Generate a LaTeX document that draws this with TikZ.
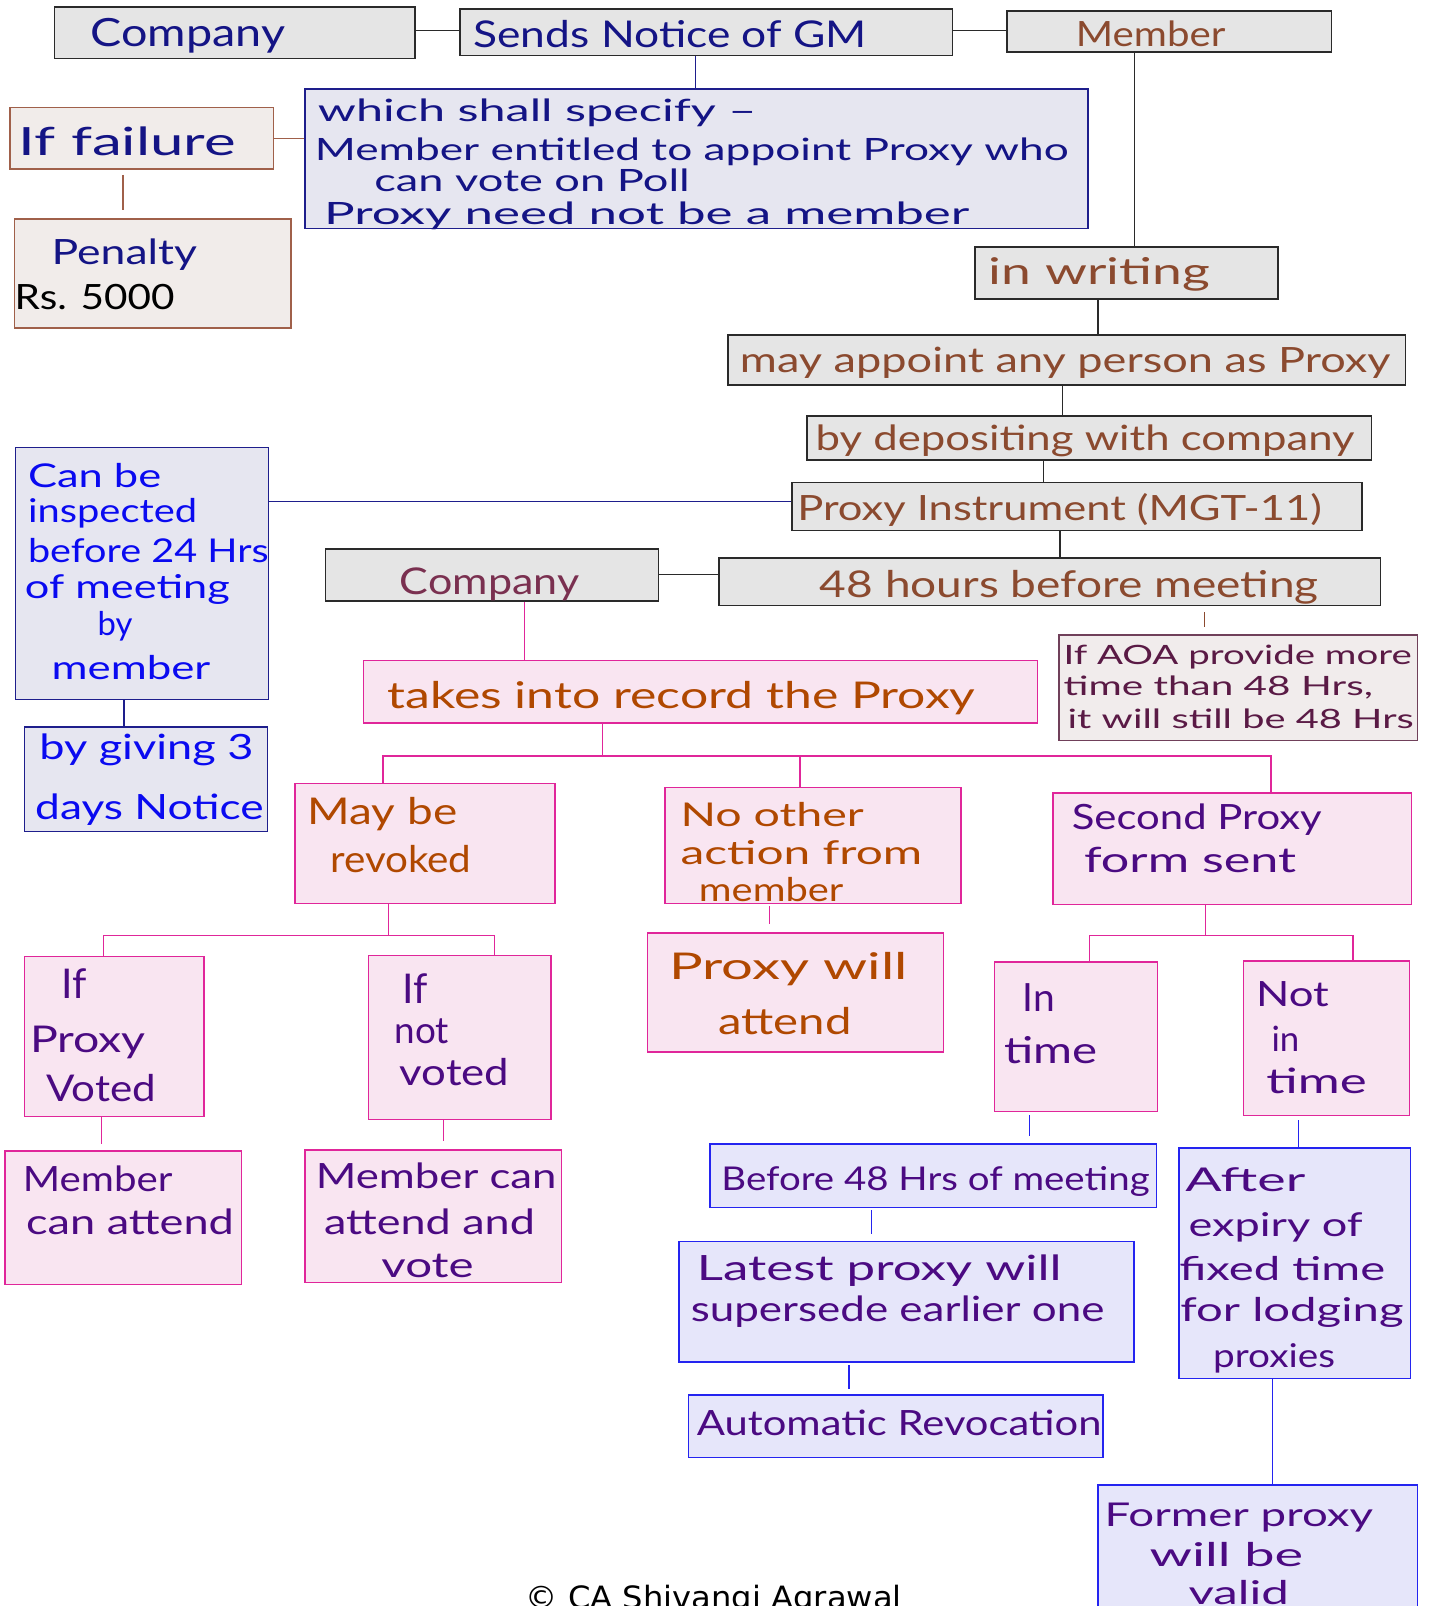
\documentclass[tikz,border=0pt]{standalone}
\usepackage{graphicx}
\usepackage{fontspec}
\setmainfont{Lato}
\newfontfamily\cpfont{DejaVu Sans}
\usetikzlibrary{fit}
\newlength\pxu \setlength\pxu{0.5pt}
\newcommand\tw[2]{\resizebox{#1\pxu}{\height}{#2}}
\newcommand\fs[1]{\fontsize{#1pt}{#1pt}\selectfont}
\definecolor{navyT}{HTML}{141485}
\definecolor{brownT}{HTML}{8B4A2F}
\definecolor{blueT}{HTML}{0A0AF0}
\definecolor{plumT}{HTML}{7A3050}
\definecolor{aoaT}{HTML}{5A1A45}
\definecolor{orangeT}{HTML}{B04800}
\definecolor{indigoT}{HTML}{4B0A82}
\definecolor{grayF}{HTML}{E5E5E5}
\definecolor{grayB}{HTML}{2A2A2A}
\definecolor{lavF}{HTML}{E6E6F0}
\definecolor{navyB}{HTML}{1E1E8C}
\definecolor{beigeF}{HTML}{F1ECEA}
\definecolor{brownB}{HTML}{A0604A}
\definecolor{aoaF}{HTML}{F1ECEC}
\definecolor{aoaB}{HTML}{70405A}
\definecolor{pinkF}{HTML}{F9E5F1}
\definecolor{pinkB}{HTML}{E0269A}
\definecolor{blueF}{HTML}{E6E6FA}
\definecolor{blueB}{HTML}{2424F0}
\begin{document}
\begin{tikzpicture}[x=0.5pt,y=-0.5pt,
  bx/.style={inner sep=0pt, line width=0.75pt},
  gbox/.style={bx, draw=grayB, fill=grayF},
  lbox/.style={bx, draw=navyB, fill=lavF},
  bbox/.style={bx, draw=brownB, fill=beigeF},
  abox/.style={bx, draw=aoaB, fill=aoaF},
  pbox/.style={bx, draw=pinkB, fill=pinkF},
  vbox/.style={bx, draw=blueB, fill=blueF},
  txt/.style={anchor=base west, inner sep=0pt},
  cl/.style={draw=grayB, line width=0.6pt},
  nl/.style={draw=navyB, line width=0.6pt},
  bl/.style={draw=brownB, line width=0.6pt},
  brl/.style={draw=brownT, line width=0.8pt},
  pl/.style={draw=pinkB, line width=0.6pt},
  vl/.style={draw=blueB, line width=0.6pt}]
\useasboundingbox (0,0) rectangle (1397,1568);
\clip (0,0) rectangle (1397,1568);
\fill[white] (0,0) rectangle (1397,1568);

% ---------- boxes ----------
\node[gbox, fit={(53,7)(405,57)}] (company1) {};
\node[gbox, fit={(449,9)(930,54)}] (sends) {};
\node[gbox, fit={(983,11)(1300,51)}] (member) {};
\node[lbox, fit={(298,87)(1062,223)}] (which) {};
\node[bbox, fit={(10,105)(267,165)}] (iffail) {};
\node[bbox, fit={(14,214)(284,320)}] (penalty) {};
\node[gbox, fit={(952,241)(1248,292)}] (writing) {};
\node[gbox, fit={(711,327)(1372,376)}] (mayapp) {};
\node[gbox, fit={(788,406)(1339,449)}] (bydep) {};
\node[gbox, fit={(773,471)(1330,518)}] (pinst) {};
\node[gbox, fit={(702,545)(1348,591)}] (h48) {};
\node[lbox, fit={(15,437)(262,683)}] (inspect) {};
\node[lbox, fit={(24,710)(261,812)}] (bygiving) {};
\node[gbox, fit={(318,536)(643,587)}] (company2) {};
\node[abox, fit={(1034,620)(1384,723)}] (aoa) {};
\node[pbox, fit={(355,645)(1013,706)}] (takes) {};
\node[pbox, fit={(288,765)(542,882)}] (mayrev) {};
\node[pbox, fit={(649,769)(938,882)}] (noother) {};
\node[pbox, fit={(1028,774)(1378,883)}] (second) {};
\node[pbox, fit={(24,934)(199,1090)}] (pvoted) {};
\node[pbox, fit={(360,933)(538,1093)}] (notvoted) {};
\node[pbox, fit={(5,1124)(236,1254)}] (mcanatt) {};
\node[pbox, fit={(298,1123)(548,1252)}] (mcanvote) {};
\node[pbox, fit={(632,911)(921,1027)}] (pwill) {};
\node[pbox, fit={(971,939)(1130,1085)}] (intime) {};
\node[pbox, fit={(1214,938)(1376,1089)}] (notintime) {};
\node[vbox, fit={(693,1117)(1129,1179)}] (before) {};
\node[vbox, fit={(663,1212)(1107,1330)}] (latest) {};
\node[vbox, fit={(672,1362)(1077,1423)}] (auto) {};
\node[vbox, fit={(1151,1121)(1377,1346)}] (after) {};
\node[vbox, fit={(1072,1450)(1384,1600)}] (former) {};

% ---------- junctions ----------
\coordinate (jt) at (588,738);
\coordinate (jtl) at (374,738);
\coordinate (jtm) at (781,738);
\coordinate (jtr) at (1241,738);
\coordinate (jm) at (379,913);
\coordinate (jml) at (101,913);
\coordinate (jmr) at (483,913);
\coordinate (js) at (1177,913);
\coordinate (jsl) at (1064,913);
\coordinate (jsr) at (1321,913);

% ---------- connectors ----------
\draw[cl] (company1.east |- 0,30) -- (sends.west |- 0,30);
\draw[cl] (sends.east |- 0,30) -- (member.west |- 0,30);
\draw[nl] (sends.south -| 679,0) -- (which.north -| 679,0);
\draw[bl] (iffail.east |- 0,135) -- (which.west |- 0,135);
\draw[bl, shorten <=2.5pt, shorten >=4pt] (iffail.south -| 120,0) -- (penalty.north -| 120,0);
\draw[cl] (member.south -| 1108,0) -- (writing.north -| 1108,0);
\draw[cl] (writing.south -| 1072,0) -- (mayapp.north -| 1072,0);
\draw[cl] (mayapp.south -| 1037,0) -- (bydep.north -| 1037,0);
\draw[cl] (bydep.south -| 1019,0) -- (pinst.north -| 1019,0);
\draw[cl] (pinst.south -| 1035,0) -- (h48.north -| 1035,0);
\draw[nl] (inspect.east |- 0,490) -- (pinst.west |- 0,490);
\draw[nl] (inspect.south -| 121,0) -- (bygiving.north -| 121,0);
\draw[cl] (company2.east |- 0,561) -- (h48.west |- 0,561);
\draw[brl, shorten <=3pt, shorten >=3.5pt] (h48.south -| 1176,0) -- (aoa.north -| 1176,0);
\draw[pl] (company2.south -| 512,0) -- (takes.north -| 512,0);
\draw[pl] (takes.south -| jt) -- (jt);
\draw[pl] (mayrev.north -| jtl) -- (jtl) -- (jtr) -- (second.north -| jtr);
\draw[pl] (noother.north -| jtm) -- (jtm);
\draw[pl] (mayrev.south -| jm) -- (jm);
\draw[pl] (pvoted.north -| jml) -- (jml) -- (jmr) -- (notvoted.north -| jmr);
\draw[pl, shorten >=3pt] (pvoted.south -| 99,0) -- (mcanatt.north -| 99,0);
\draw[pl, shorten >=4pt] (notvoted.south -| 433,0) -- (mcanvote.north -| 433,0);
\draw[pl, shorten <=1pt, shorten >=4pt] (noother.south -| 751,0) -- (pwill.north -| 751,0);
\draw[pl] (second.south -| js) -- (js);
\draw[pl] (intime.north -| jsl) -- (jsl) -- (jsr) -- (notintime.north -| jsr);
\draw[vl, shorten <=1.5pt, shorten >=3.5pt] (intime.south -| 1005,0) -- (before.north -| 1005,0);
\draw[vl, shorten <=1pt, shorten >=3pt] (before.south -| 851,0) -- (latest.north -| 851,0);
\draw[vl, shorten <=1pt, shorten >=2.5pt] (latest.south -| 829,0) -- (auto.north -| 829,0);
\draw[vl, shorten <=2pt] (notintime.south -| 1268,0) -- (after.north -| 1268,0);
\draw[vl] (after.south -| 1242,0) -- (former.north -| 1242,0);

% ---------- texts ----------
\node[txt, text=navyT, font=\fs{19}] (t1) at (88,45) {\tw{190}{Company}};
\node[txt, text=navyT, font=\fs{18}] (t2) at (462,46) {\tw{384}{Sends Notice of GM}};
\node[txt, text=brownT, font=\fs{17}] (t3) at (1050,45) {\tw{146}{Member}};
\node[txt, text=navyT, font=\fs{15}] (t4a) at (310,119) {\tw{428}{which shall specify –}};
\node[txt, text=navyT, font=\fs{15}] (t4b) at (307,157) {\tw{736}{Member entitled to appoint Proxy who}};
\node[txt, text=navyT, font=\fs{15}] (t4c) at (365,187) {\tw{308}{can vote on Poll}};
\node[txt, text=navyT, font=\fs{15}] (t4d) at (316,219) {\tw{630}{Proxy need not be a member}};
\node[txt, text=navyT, font=\fs{19}] (t5) at (18,152) {\tw{212}{If failure}};
\node[txt, text=navyT, font=\fs{17}] (t6a) at (50,258) {\tw{142}{Penalty}};
\node[txt, text=black, font=\fs{17}] (t6b) at (14,302) {\tw{156}{Rs. 5000}};
\node[txt, text=brownT, font=\fs{18}] (t7) at (965,278) {\tw{216}{in writing}};
\node[txt, text=brownT, font=\fs{17}] (t8) at (722,364) {\tw{635}{may appoint any person as Proxy}};
\node[txt, text=brownT, font=\fs{17}] (t9) at (796,440) {\tw{526}{by depositing with company}};
\node[txt, text=brownT, font=\fs{17}] (t10) at (778,508) {\tw{512}{Proxy Instrument (MGT-11)}};
\node[txt, text=brownT, font=\fs{18}] (t11) at (800,583) {\tw{487}{48 hours before meeting}};
\node[txt, text=blueT, font=\fs{16}] (t12a) at (27,476) {\tw{130}{Can be}};
\node[txt, text=blueT, font=\fs{16}] (t12b) at (27,510) {\tw{165}{inspected}};
\node[txt, text=blueT, font=\fs{16}] (t12c) at (27,549) {\tw{235}{before 24 Hrs}};
\node[txt, text=blueT, font=\fs{16}] (t12d) at (24,584) {\tw{200}{of meeting}};
\node[txt, text=blueT, font=\fs{16}] (t12e) at (95,620) {by};
\node[txt, text=blueT, font=\fs{16}] (t12f) at (50,663) {\tw{155}{member}};
\node[txt, text=blueT, font=\fs{17}] (t13a) at (38,742) {\tw{209}{by giving 3}};
\node[txt, text=blueT, font=\fs{17}] (t13b) at (34,800) {\tw{223}{days Notice}};
\node[txt, text=plumT, font=\fs{18}] (t14) at (390,580) {\tw{175}{Company}};
\node[txt, text=aoaT, font=\fs{13}] (t15a) at (1038,649) {\tw{340}{If AOA provide more}};
\node[txt, text=aoaT, font=\fs{13}] (t15b) at (1038,679) {\tw{302}{time than 48 Hrs,}};
\node[txt, text=aoaT, font=\fs{13}] (t15c) at (1042,711) {\tw{338}{it will still be 48 Hrs}};
\node[txt, text=orangeT, font=\fs{18}] (t16) at (378,692) {\tw{574}{takes into record the Proxy}};
\node[txt, text=orangeT, font=\fs{18}] (t17a) at (300,805) {\tw{146}{May be}};
\node[txt, text=orangeT, font=\fs{18}] (t17b) at (322,852) {\tw{138}{revoked}};
\node[txt, text=orangeT, font=\fs{16}] (t18a) at (664,807) {\tw{179}{No other}};
\node[txt, text=orangeT, font=\fs{16}] (t18b) at (664,844) {\tw{236}{action from}};
\node[txt, text=orangeT, font=\fs{16}] (t18c) at (682,880) {\tw{141}{member}};
\node[txt, text=indigoT, font=\fs{17}] (t19a) at (1046,810) {\tw{244}{Second Proxy}};
\node[txt, text=indigoT, font=\fs{17}] (t19b) at (1058,852) {\tw{207}{form sent}};
\node[txt, text=indigoT, font=\fs{20}] (t20a) at (60,975) {If};
\node[txt, text=indigoT, font=\fs{18}] (t20b) at (29,1028) {\tw{113}{Proxy}};
\node[txt, text=indigoT, font=\fs{18}] (t20c) at (45,1075) {\tw{107}{Voted}};
\node[txt, text=indigoT, font=\fs{20}] (t21a) at (393,980) {If};
\node[txt, text=indigoT, font=\fs{18}] (t21b) at (385,1019) {not};
\node[txt, text=indigoT, font=\fs{18}] (t21c) at (390,1060) {\tw{107}{voted}};
\node[txt, text=indigoT, font=\fs{17}] (t22a) at (22,1163) {\tw{146}{Member}};
\node[txt, text=indigoT, font=\fs{17}] (t22b) at (25,1205) {\tw{203}{can attend}};
\node[txt, text=indigoT, font=\fs{17}] (t23a) at (308,1160) {\tw{235}{Member can}};
\node[txt, text=indigoT, font=\fs{17}] (t23b) at (316,1205) {\tw{206}{attend and}};
\node[txt, text=indigoT, font=\fs{17}] (t23c) at (372,1247) {\tw{90}{vote}};
\node[txt, text=orangeT, font=\fs{18}] (t24a) at (653,956) {\tw{233}{Proxy will}};
\node[txt, text=orangeT, font=\fs{18}] (t24b) at (701,1010) {\tw{130}{attend}};
\node[txt, text=indigoT, font=\fs{19}] (t25a) at (998,988) {In};
\node[txt, text=indigoT, font=\fs{18}] (t25b) at (980,1038) {\tw{91}{time}};
\node[txt, text=indigoT, font=\fs{17}] (t26a) at (1226,983) {\tw{71}{Not}};
\node[txt, text=indigoT, font=\fs{17}] (t26b) at (1241,1027) {in};
\node[txt, text=indigoT, font=\fs{17}] (t26c) at (1236,1068) {\tw{98}{time}};
\node[txt, text=indigoT, font=\fs{16}] (t27) at (704,1162) {\tw{418}{Before 48 Hrs of meeting}};
\node[txt, text=indigoT, font=\fs{17}] (t28a) at (680,1250) {\tw{356}{Latest proxy will}};
\node[txt, text=indigoT, font=\fs{17}] (t28b) at (674,1290) {\tw{404}{supersede earlier one}};
\node[txt, text=indigoT, font=\fs{17}] (t29) at (680,1402) {\tw{395}{Automatic Revocation}};
\node[txt, text=indigoT, font=\fs{16}] (t30a) at (1157,1163) {\tw{117}{After}};
\node[txt, text=indigoT, font=\fs{16}] (t30b) at (1160,1207) {\tw{170}{expiry of}};
\node[txt, text=indigoT, font=\fs{16}] (t30c) at (1151,1250) {\tw{201}{fixed time}};
\node[txt, text=indigoT, font=\fs{16}] (t30d) at (1152,1290) {\tw{218}{for lodging}};
\node[txt, text=indigoT, font=\fs{16}] (t30e) at (1184,1335) {\tw{119}{proxies}};
\node[txt, text=indigoT, font=\fs{16}] (t31a) at (1078,1490) {\tw{262}{Former proxy}};
\node[txt, text=indigoT, font=\fs{16}] (t31b) at (1122,1529) {\tw{150}{will be}};
\node[txt, text=indigoT, font=\fs{16}] (t31c) at (1160,1567) {\tw{98}{valid}};
\node[txt, text=black, font={\cpfont\fs{15}}] (copy) at (513,1570) {\tw{367}{© CA Shivangi Agrawal}};
\end{tikzpicture}
\end{document}
